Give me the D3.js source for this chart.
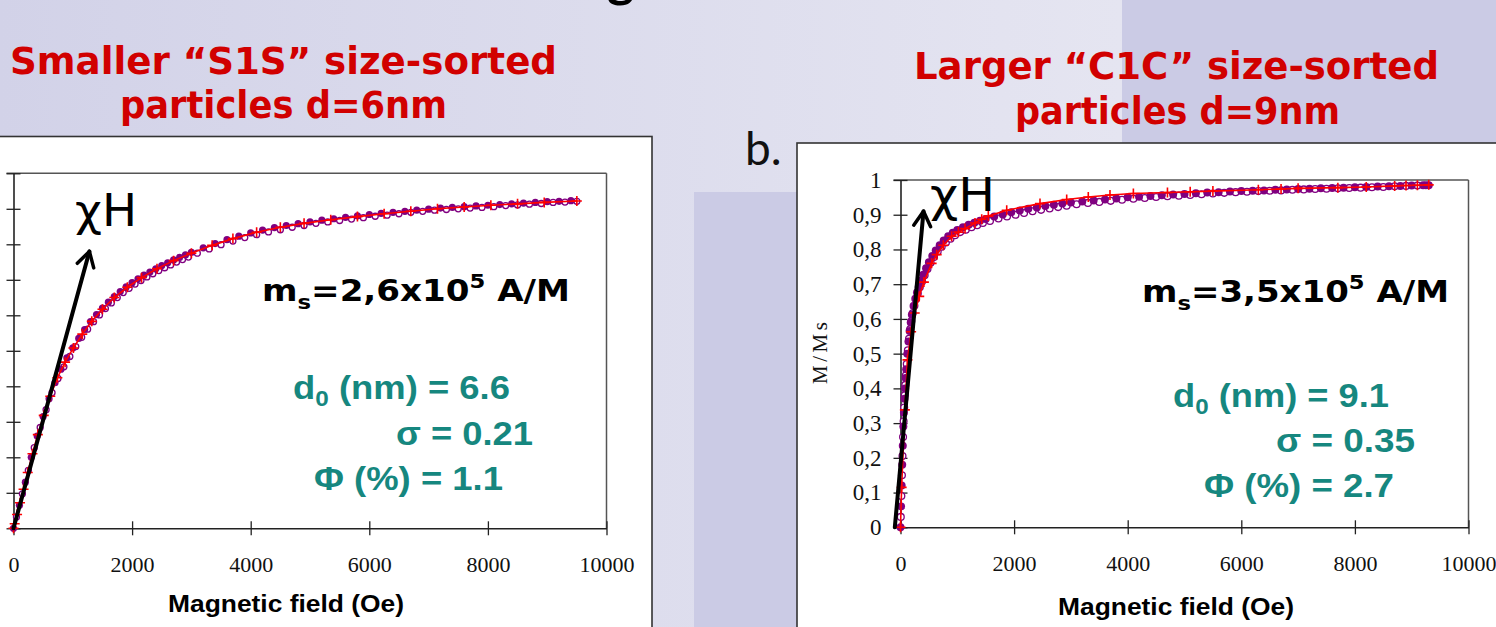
<!DOCTYPE html>
<html><head><meta charset="utf-8">
<script src="https://cdn.jsdelivr.net/npm/d3@7"></script>
<style>html,body{margin:0;padding:0;overflow:hidden;background:#d6d6ea}</style>
</head><body>
<svg id="c" width="1496" height="627" xmlns="http://www.w3.org/2000/svg"></svg>
<script>
// ---------- tick labels ----------
const xTicks = [0, 2000, 4000, 6000, 8000, 10000];
const yTicks = [0, 0.1, 0.2, 0.3, 0.4, 0.5, 0.6, 0.7, 0.8, 0.9, 1];
const yTickLabels = ["0", "0,1", "0,2", "0,3", "0,4", "0,5", "0,6", "0,7", "0,8", "0,9", "1"];

// ---------- S1S (small particles, d = 6 nm) ----------
const s1sH = [0,100,200,300,400,500,600,700,800,900,1000,1100,1200,1300,1400,1500,1600,1700,1800,1900,2000,2100,2200,2300,2400,2500,2600,2700,2800,2900,3000,
  3200,3400,3600,3800,4000,4200,4400,4600,4800,5000,5200,5400,5600,5800,6000,6200,6400,6600,6800,7000,7200,7400,7600,7800,8000,8200,8400,8600,8800,9000,9200,9400];
const s1sFilled = [0,0.065,0.13,0.2,0.26,0.315,0.365,0.41,0.448,0.48,0.508,0.535,0.56,0.582,0.602,0.62,0.637,0.653,0.667,0.68,0.692,0.703,0.713,0.722,0.731,0.74,0.748,0.756,0.763,0.77,0.777,
  0.79,0.802,0.813,0.823,0.832,0.84,0.847,0.853,0.858,0.863,0.868,0.872,0.876,0.88,0.884,0.887,0.89,0.893,0.896,0.899,0.902,0.904,0.906,0.908,0.91,0.912,0.914,0.916,0.918,0.92,0.921,0.923];
const s1sOpenH = [50,150,250,350,450,550,650,750,850,950,1050,1150,1250,1350,1450,1550,1650,1750,1850,1950,2050,2150,2250,2350,2450,2550,2650,2750,2850,2950,
  3100,3300,3500,3700,3900,4100,4300,4500,4700,4900,5100,5300,5500,5700,5900,6100,6300,6500,6700,6900,7100,7300,7500,7700,7900,8100,8300,8500,8700,8900,9100,9300,9500];
const s1sOpen = [0.032,0.097,0.163,0.227,0.284,0.334,0.382,0.422,0.455,0.484,0.512,0.538,0.561,0.582,0.601,0.619,0.635,0.65,0.664,0.676,0.688,0.698,0.708,0.717,0.726,0.734,0.742,0.75,0.757,0.764,
  0.775,0.787,0.799,0.809,0.819,0.827,0.835,0.841,0.848,0.853,0.859,0.863,0.867,0.871,0.875,0.879,0.882,0.886,0.89,0.893,0.896,0.898,0.9,0.902,0.904,0.906,0.909,0.911,0.913,0.915,0.918,0.919,0.921];
const s1sFitH = [0,20,60,110,170,240,320,410,510,620,740,870,1010,1160,1320,1500,1700,1920,2160,2420,2700,3000,3350,3700,4100,4500,4900,5350,5800,6250,6700,7150,7600,8050,8500,8950,9500];
const s1sFit = [0,0.013,0.039,0.072,0.11,0.157,0.21,0.264,0.318,0.372,0.424,0.468,0.508,0.547,0.583,0.617,0.65,0.679,0.706,0.731,0.754,0.775,0.797,0.816,0.834,0.848,0.859,0.869,0.878,0.886,0.893,0.9,0.905,0.91,0.914,0.918,0.922];

// ---------- C1C (large particles, d = 9 nm) ----------
const c1cH = [0,10,20,30,40,50,60,70,80,90,100,120,140,160,180,200,230,260,290,320,360,400,450,500,560,620,690,760,840,920,1000,1100,1200,1300,1400,1500,
  1650,1800,1950,2100,2250,2400,2550,2700,2850,3000,3200,3400,3600,3800,4000,4200,4400,4600,4800,5000,5200,5400,5600,5800,6000,6200,6400,6600,6800,7000,7200,7400,7600,7800,8000,8200,8400,8600,8800,9000,9200,9300];
const c1cFilled = [0,0.06,0.12,0.18,0.235,0.29,0.33,0.37,0.4,0.43,0.455,0.5,0.535,0.565,0.59,0.612,0.637,0.658,0.676,0.692,0.71,0.727,0.746,0.763,0.781,0.797,0.812,0.826,0.838,0.848,0.856,0.864,0.871,0.877,0.883,0.888,
  0.895,0.901,0.907,0.912,0.917,0.921,0.925,0.929,0.932,0.935,0.938,0.941,0.944,0.947,0.95,0.952,0.954,0.956,0.958,0.96,0.962,0.964,0.965,0.967,0.968,0.969,0.97,0.972,0.973,0.974,0.975,0.976,0.977,0.978,0.979,0.98,0.981,0.982,0.983,0.984,0.985,0.985];
const c1cOpenH = [5,15,25,35,45,55,65,75,85,95,110,130,150,170,190,215,245,275,305,340,380,425,475,530,590,655,725,800,880,960,1050,1150,1250,1350,1450,1575,1725,1875,2025,2175,2325,2475,2625,2775,2925,
  3100,3300,3500,3700,3900,4100,4300,4500,4700,4900,5100,5300,5500,5700,5900,6100,6300,6500,6700,6900,7100,7300,7500,7700,7900,8100,8300,8500,8700,8900,9100,9250];
const c1cOpen = [0.03,0.09,0.15,0.205,0.26,0.305,0.345,0.38,0.41,0.438,0.47,0.51,0.543,0.57,0.593,0.616,0.638,0.657,0.673,0.691,0.708,0.726,0.744,0.762,0.778,0.794,0.808,0.82,0.831,0.841,0.85,0.857,0.864,0.87,0.876,0.882,0.889,0.895,0.9,0.905,0.91,0.914,0.918,0.922,0.926,
  0.93,0.934,0.937,0.94,0.943,0.946,0.948,0.951,0.953,0.955,0.957,0.959,0.961,0.963,0.965,0.966,0.968,0.969,0.97,0.972,0.973,0.974,0.975,0.976,0.977,0.978,0.979,0.98,0.982,0.983,0.984,0.985];
const c1cFitH = [0,20,77,123,187,250,330,412,548,637,754,901,1020,1136,1312,1430,1546,1870,2456,2926,3306,3688,4100,4700,5100,5500,6300,6700,7000,7700,8200,8700,8900,9100,9300];
const c1cFit = [0,0.115,0.338,0.482,0.563,0.617,0.665,0.706,0.76,0.785,0.812,0.838,0.85,0.86,0.876,0.887,0.896,0.913,0.932,0.944,0.951,0.957,0.961,0.964,0.966,0.968,0.972,0.974,0.976,0.978,0.98,0.983,0.984,0.985,0.986];

// ---------- drawing ----------
const svg = d3.select("#c");
const W = 1496, Hh = 627;
const PURPLE = "#800080", RED = "#ff0000", TEAL = "#16877f", TITLE_RED = "#d10000";
const HEAVY = "'DejaVu Sans',Verdana,sans-serif";
const SERIF = "'Liberation Serif','Times New Roman',serif";
const SANS = "'Liberation Sans',Arial,sans-serif";

// background
const defs = svg.append("defs");
const lg = defs.append("linearGradient").attr("id","bg").attr("x1","0").attr("x2","1").attr("y1","0").attr("y2","0");
lg.append("stop").attr("offset","0").attr("stop-color","#d2d2e8");
lg.append("stop").attr("offset","1").attr("stop-color","#e5e5f1");
svg.append("rect").attr("x",0).attr("y",0).attr("width",1122).attr("height",Hh).attr("fill","url(#bg)");
svg.append("rect").attr("x",1122).attr("y",0).attr("width",W-1122).attr("height",Hh).attr("fill","#cbcbe5");
svg.append("rect").attr("x",694).attr("y",192).attr("width",110).attr("height",Hh-192).attr("fill","#cbcbe5");

// partial slide title (only the descender is in frame)
svg.append("text").attr("x",607).attr("y",-4).attr("font-family","Lato,'DejaVu Sans',sans-serif").attr("font-weight",700)
  .attr("font-size",52).attr("fill","#000").text("g");

// panels
svg.append("rect").attr("x",-10).attr("y",136.5).attr("width",662).attr("height",520).attr("fill","#fff").attr("stroke","#333").attr("stroke-width",1.6);
svg.append("rect").attr("x",797).attr("y",143).attr("width",720).attr("height",520).attr("fill","#fff").attr("stroke","#333").attr("stroke-width",1.6);

svg.append("text").attr("x",745).attr("y",165).attr("font-family","Lato,'DejaVu Sans',sans-serif").attr("font-size",46).attr("fill","#111").text("b.");

function titleLine(txt, x, y, len){
  svg.append("text").attr("x",x).attr("y",y).attr("font-family",HEAVY).attr("font-weight",700).attr("font-size",37)
    .attr("fill",TITLE_RED).attr("textLength",len).attr("lengthAdjust","spacingAndGlyphs").text(txt);
}
titleLine("Smaller \u201CS1S\u201D size-sorted", 10, 74, 547);
titleLine("particles d=6nm", 120, 118, 327);
titleLine("Larger \u201CC1C\u201D size-sorted", 914, 79, 525);
titleLine("particles d=9nm", 1015, 124, 325);

function panel(cfg){
  const {x, y, H, filled, openH, open, fitH, fit, r} = cfg;
  const g = svg.append("g");
  // frame
  g.append("line").attr("x1",x(0)-7).attr("x2",x(10000)).attr("y1",y(1)).attr("y2",y(1)).attr("stroke","#555").attr("stroke-width",1.5);
  g.append("line").attr("x1",x(10000)).attr("x2",x(10000)).attr("y1",y(1)).attr("y2",y(0)).attr("stroke","#555").attr("stroke-width",1.5);
  // x axis
  const gx = g.append("g").attr("transform",`translate(0,${y(0)})`)
    .call(d3.axisBottom(x).tickValues(xTicks).tickFormat(d3.format("d")).tickSizeInner(7).tickSizeOuter(0).tickPadding(21));
  gx.selectAll(".tick line").attr("y1",-7).attr("y2",7).attr("stroke","#222").attr("stroke-width",1.3);
  gx.select(".domain").attr("stroke","#222").attr("stroke-width",1.6);
  gx.selectAll("text").attr("font-family",SERIF).attr("font-size",22).attr("fill","#111");
  // y axis (labels of the left panel fall outside the picture, as in the original)
  const gy = g.append("g").attr("transform",`translate(${x(0)},0)`)
    .call(d3.axisLeft(y).tickValues(yTicks).tickFormat((d,i)=>cfg.showY ? yTickLabels[i] : "").tickSizeInner(7).tickSizeOuter(0).tickPadding(12));
  gy.selectAll(".tick line").attr("x1",-7).attr("x2",7).attr("stroke","#222").attr("stroke-width",1.3);
  gy.select(".domain").attr("stroke","#222").attr("stroke-width",1.6);
  gy.selectAll("text").attr("font-family",SERIF).attr("font-size",23).attr("fill","#111");
  // x title
  g.append("text").attr("x",cfg.xTitleX).attr("y",cfg.xTitleY).attr("text-anchor","middle").attr("font-family",SANS)
    .attr("font-weight",700).attr("font-size",24).attr("fill","#000").attr("textLength",236).attr("lengthAdjust","spacingAndGlyphs").text("Magnetic field (Oe)");
  // open circles
  g.append("g").selectAll("circle").data(openH).join("circle")
    .attr("cx",(d)=>x(d)).attr("cy",(d,i)=>y(open[i])).attr("r",r-0.6)
    .attr("fill","#fff").attr("stroke",PURPLE).attr("stroke-width",1.3);
  // filled circles
  g.append("g").selectAll("circle").data(H).join("circle")
    .attr("cx",(d)=>x(d)).attr("cy",(d,i)=>y(filled[i])).attr("r",r).attr("fill",PURPLE);
  // fit line and + markers
  const pts = fitH.map((h,i)=>[x(h), y(fit[i])]);
  g.append("path").attr("d",d3.line()(pts)).attr("fill","none").attr("stroke",RED).attr("stroke-width",1.6);
  g.append("g").selectAll("path").data(pts).join("path")
    .attr("d",p=>`M${p[0]-5},${p[1]}H${p[0]+5}M${p[0]},${p[1]-5}V${p[1]+5}`)
    .attr("stroke",RED).attr("stroke-width",1.6);
  // chi H arrow
  const a0 = [x(cfg.arrow[0][0]), y(cfg.arrow[0][1])], a1 = [x(cfg.arrow[1][0]), y(cfg.arrow[1][1])];
  const dx = a0[0]-a1[0], dy = a0[1]-a1[1], L = Math.hypot(dx,dy), ux = dx/L, uy = dy/L;
  const rot = (ang)=>{const c=Math.cos(ang), s=Math.sin(ang); return [a1[0]+17*(c*ux - s*uy), a1[1]+17*(s*ux + c*uy)];};
  const b1 = rot(Math.PI/6), b2 = rot(-Math.PI/6);
  g.append("line").attr("x1",a0[0]).attr("y1",a0[1]).attr("x2",a1[0]).attr("y2",a1[1]).attr("stroke","#000").attr("stroke-width",4).attr("stroke-linecap","round");
  g.append("path").attr("d",`M${b1[0]},${b1[1]}L${a1[0]},${a1[1]}L${b2[0]},${b2[1]}`).attr("fill","none").attr("stroke","#000").attr("stroke-width",3.5).attr("stroke-linecap","round").attr("stroke-linejoin","round");
  g.append("text").attr("x",cfg.chi[0]).attr("y",cfg.chi[1]).attr("font-family",HEAVY).attr("font-size",cfg.chi[3])
    .attr("textLength",cfg.chi[2]).attr("lengthAdjust","spacingAndGlyphs").attr("fill","#000").text("\u03C7H");
  // m_s annotation
  const ms = g.append("text").attr("x",cfg.ms[0]).attr("y",cfg.ms[1]).attr("font-family",HEAVY).attr("font-weight",700)
    .attr("font-size",30).attr("fill","#000").attr("textLength",cfg.ms[2]).attr("lengthAdjust","spacingAndGlyphs");
  ms.append("tspan").text("m");
  ms.append("tspan").attr("dy",8).attr("font-size",20).text("s");
  ms.append("tspan").attr("dy",-8).text("=" + cfg.msVal + "x10");
  ms.append("tspan").attr("dy",-13).attr("font-size",20).text("5");
  ms.append("tspan").attr("dy",13).text(" A/M");
  // parameters (teal)
  const t1 = g.append("text").attr("x",cfg.d0[0]).attr("y",cfg.d0[1]).attr("font-family",SANS).attr("font-weight",700).attr("font-size",33)
    .attr("fill",TEAL).attr("textLength",cfg.d0[2]).attr("lengthAdjust","spacingAndGlyphs");
  t1.append("tspan").text("d");
  t1.append("tspan").attr("dy",7).attr("font-size",22).text("0");
  t1.append("tspan").attr("dy",-7).text(" (nm) = " + cfg.d0Val);
  g.append("text").attr("x",cfg.sig[0]).attr("y",cfg.sig[1]).attr("font-family",SANS).attr("font-weight",700).attr("font-size",33)
    .attr("fill",TEAL).attr("textLength",cfg.sig[2]).attr("lengthAdjust","spacingAndGlyphs").text("\u03C3 = " + cfg.sigVal);
  g.append("text").attr("x",cfg.phi[0]).attr("y",cfg.phi[1]).attr("font-family",SANS).attr("font-weight",700).attr("font-size",33)
    .attr("fill",TEAL).attr("textLength",cfg.phi[2]).attr("lengthAdjust","spacingAndGlyphs").text("\u03A6 (%) = " + cfg.phiVal);
}

// left panel
panel({
  x: d3.scaleLinear([0,10000],[13.5,606.5]), y: d3.scaleLinear([0,1],[528.3,173.3]), showY: false,
  H: s1sH, filled: s1sFilled, openH: s1sOpenH, open: s1sOpen, fitH: s1sFitH, fit: s1sFit, r: 3.6,
  xTitleX: 286, xTitleY: 612,
  arrow: [[0,0],[1280,0.78]], chi: [75,226,62,44],
  ms: [262,301,308], msVal: "2,6",
  d0: [293,399,217], d0Val: "6.6", sig: [396,445,137], sigVal: "0.21", phi: [314,490,189], phiVal: "1.1"
});
// right panel
panel({
  x: d3.scaleLinear([0,10000],[900.5,1468.5]), y: d3.scaleLinear([0,1],[527.3,180]), showY: true,
  H: c1cH, filled: c1cFilled, openH: c1cOpenH, open: c1cOpen, fitH: c1cFitH, fit: c1cFit, r: 4,
  xTitleX: 1176, xTitleY: 615,
  arrow: [[-100,0],[405,0.91]], chi: [930,211,65,46],
  ms: [1142,302,307], msVal: "3,5",
  d0: [1173,407,216], d0Val: "9.1", sig: [1276,452,139], sigVal: "0.35", phi: [1204,497,190], phiVal: "2.7"
});
// y-axis title (right panel)
svg.append("text").attr("transform",`translate(827,353) rotate(-90)`).attr("text-anchor","middle")
  .attr("font-family",SERIF).attr("font-size",21).attr("fill","#111").attr("textLength",62).attr("lengthAdjust","spacing").text("M/Ms");
</script>
</body></html>
